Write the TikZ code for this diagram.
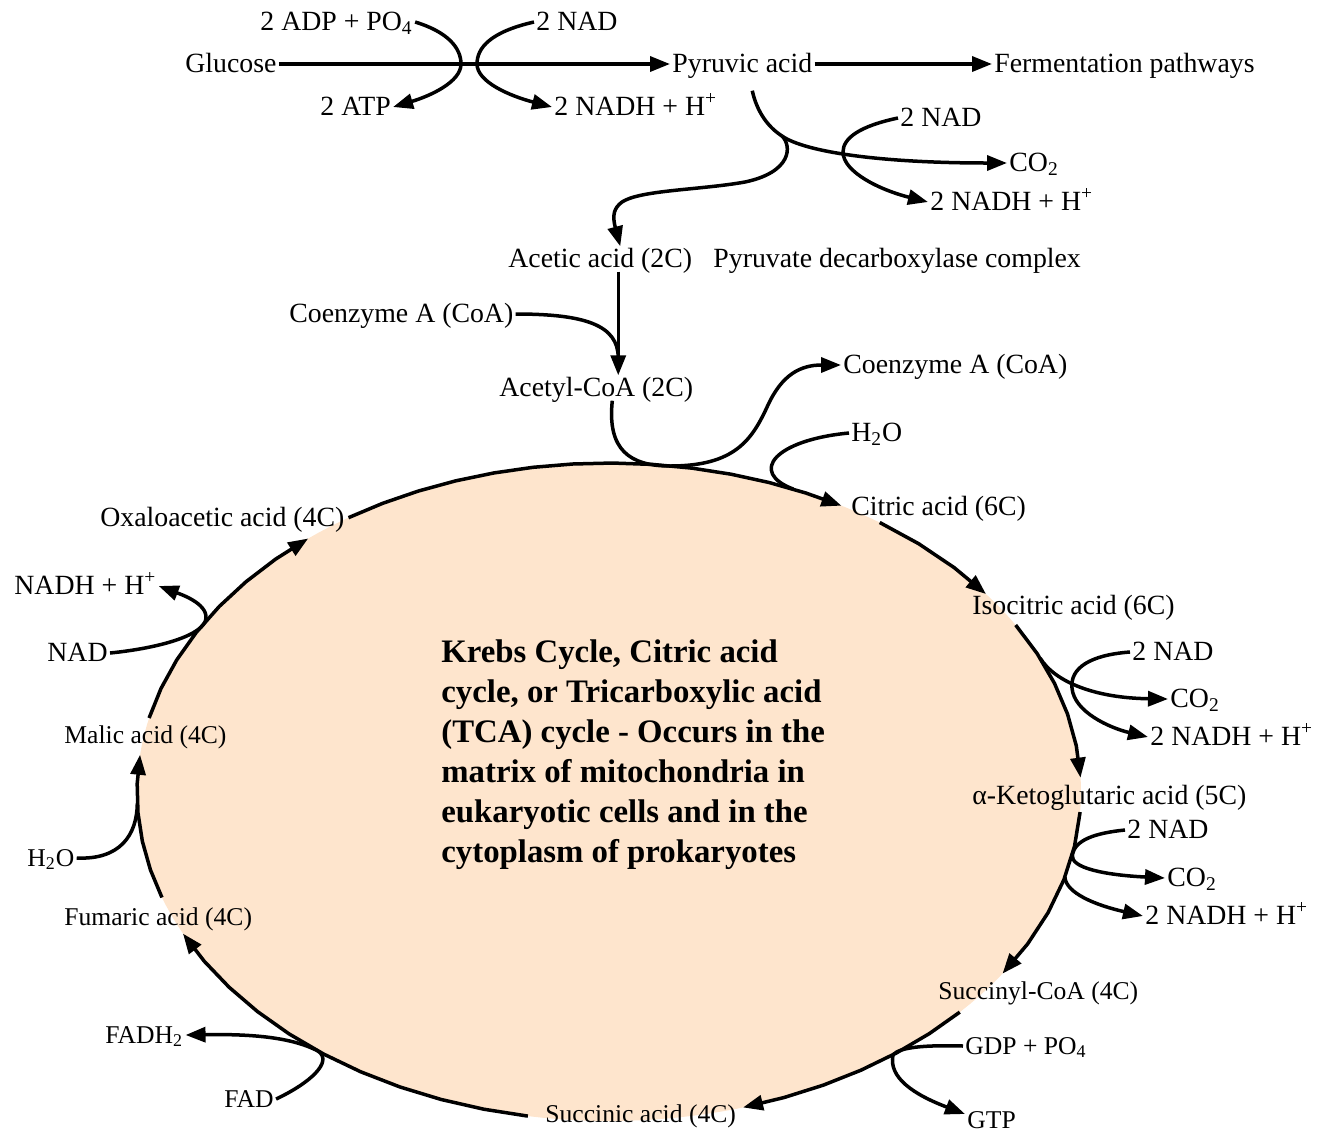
\documentclass[tikz,border=0pt]{standalone}
\usepackage{fontspec}
\setmainfont{Liberation Serif}
\usetikzlibrary{arrows.meta}
\definecolor{peach}{RGB}{254,229,205}
\begin{document}
\begin{tikzpicture}[x=0.5pt,y=-0.5pt,
  lab/.style={anchor=west,inner sep=1pt,font=\fontsize{13.9pt}{16pt}\selectfont,text height=0.93em,text depth=0.1em},
  labs/.style={lab,font=\fontsize{12.8pt}{15pt}\selectfont},
  conn/.style={line width=1.75pt},
  arr/.style={conn,-{Triangle[length=10pt,width=7.5pt]}}]
\useasboundingbox (0,0) rectangle (1324,1131);
% cycle body
\fill[peach] plot[domain=0:360,samples=181] ({609+472*cos(\x)},{792-329*sin(\x)}) -- cycle;
\foreach \a in {67,24,-11,-15,-53,-128,182}
  \coordinate (e\a) at ({609+472*cos(\a)},{792-329*sin(\a)});
% labels - top
\node[lab] (glucose) at (183,64) {Glucose};
\node[lab] (pyr) at (670,64) {Pyruvic acid};
\node[lab] (ferm) at (992,64) {Fermentation pathways};
\node[lab] (adp) at (258,22) {2 ADP + PO\textsubscript{4}};
\node[lab] (atp) at (318,107) {2 ATP};
\node[lab] (nadA) at (534,22) {2 NAD};
\node[lab] (nadhA) at (552,107) {2 NADH + H\textsuperscript{+}};
\node[lab] (nadB) at (898,118) {2 NAD};
\node[lab] (co2A) at (1007,163) {CO\textsubscript{2}};
\node[lab] (nadhB) at (928,202) {2 NADH + H\textsuperscript{+}};
\node[lab] (acetic) at (506,259) {Acetic acid (2C)};
\node[lab] (pdc) at (711,259) {Pyruvate decarboxylase complex};
\node[lab] (coaL) at (287,314) {Coenzyme A (CoA)};
\node[lab] (acetyl) at (497,388) {Acetyl-CoA (2C)};
\node[lab] (coaR) at (841,365) {Coenzyme A (CoA)};
\node[lab] (h2oA) at (849,433) {H\textsubscript{2}O};
% labels - cycle
\node[lab] (citric) at (849,507) {Citric acid (6C)};
\node[lab] (iso) at (970,606) {Isocitric acid (6C)};
\node[lab] (nadC) at (1130,652) {2 NAD};
\node[lab] (co2B) at (1168,699) {CO\textsubscript{2}};
\node[lab] (nadhC) at (1148,737) {2 NADH + H\textsuperscript{+}};
\node[lab] (akg) at (970,796) {α-Ketoglutaric acid (5C)};
\node[lab] (nadD) at (1125,830) {2 NAD};
\node[lab] (co2C) at (1165,878) {CO\textsubscript{2}};
\node[lab] (nadhD) at (1143,916) {2 NADH + H\textsuperscript{+}};
\node[labs] (succoa) at (936,991) {Succinyl-CoA (4C)};
\node[labs] (gdp) at (963,1046) {GDP + PO\textsubscript{4}};
\node[labs] (gtp) at (965,1120) {GTP};
\node[labs] (succ) at (543,1114) {Succinic acid (4C)};
\node[labs] (fad) at (222,1099) {FAD};
\node[labs] (fadh) at (103,1035) {FADH\textsubscript{2}};
\node[labs] (fum) at (62,917) {Fumaric acid (4C)};
\node[labs] (h2oB) at (25,858) {H\textsubscript{2}O};
\node[labs] (malic) at (62,735) {Malic acid (4C)};
\node[lab] (oxalo) at (98,518) {Oxaloacetic acid (4C)};
\node[lab] (nadhE) at (12,586) {NADH + H\textsuperscript{+}};
\node[lab] (nadE) at (45,653) {NAD};
\node[anchor=north west,inner sep=0pt,align=left,
      font=\fontsize{16.4pt}{20pt}\bfseries\selectfont] (krebs) at (441,639)
  {Krebs Cycle, Citric acid\\cycle, or Tricarboxylic acid\\(TCA) cycle - Occurs in the\\matrix of mitochondria in\\eukaryotic cells and in the\\cytoplasm of prokaryotes};
% glycolysis
\draw[arr] (glucose.east) -- (pyr.west);
\draw[arr] (pyr.east) -- (ferm.west);
\coordinate (gx1) at (461,64);
\coordinate (gx2) at (477,64);
\draw[arr] (adp.east) .. controls (448,32) and (461,48) .. (gx1) .. controls (461,82) and (430,96) .. (atp.east);
\draw[arr] (nadA.west) .. controls (490,32) and (477,48) .. (gx2) .. controls (477,82) and (510,96) .. (nadhA.west);
% pyruvate decarboxylation
\coordinate (pyS) at ([xshift=5pt,yshift=-7pt]pyr.south);
\coordinate (pyB) at (782,136);
\draw[conn] (pyS) .. controls (757,112) and (768,127) .. (pyB);
\draw[arr] (pyB) .. controls (805,152) and (880,163) .. (co2A.west);
\draw[arr] (pyB) .. controls (792,146) and (792,172) .. (745,182) .. controls (700,190) and (640,190) .. (622,202) .. controls (614,208) and (612,215) .. ([xshift=10pt]acetic.north);
\draw[arr] (nadB.west) .. controls (860,126) and (843,138) .. (843,152) .. controls (843,172) and (880,190) .. (nadhB.west);
% acetyl-CoA formation
\coordinate (vtop) at ([xshift=9pt]acetic.south);
\coordinate (vmerge) at (vtop |- 0,358);
\draw[arr] (vtop) -- (vtop |- acetyl.north);
\draw[conn] (coaL.east) .. controls (585,314) and (vtop |- 0,325) .. (vmerge);
\draw[arr] ([xshift=8pt]acetyl.south) .. controls (607,450) and (630,466) .. (670,466) .. controls (735,466) and (752,440) .. (768,405) .. controls (782,375) and (800,365) .. (coaR.west);
\draw[conn] (h2oA.west) .. controls (775,440) and (748,472) .. (e67);
% cycle arcs
\draw[arr] plot[domain=123.5:60.5,samples=14] ({609+472*cos(\x)},{792-329*sin(\x)});
\draw[arr] plot[domain=55:37,samples=4] ({609+472*cos(\x)},{792-329*sin(\x)});
\draw[arr] plot[domain=30.5:2.5,samples=6] ({609+472*cos(\x)},{792-329*sin(\x)});
\draw[arr] plot[domain=-3.5:-33.5,samples=6] ({609+472*cos(\x)},{792-329*sin(\x)});
\draw[arr] plot[domain=-42:-73.5,samples=7] ({609+472*cos(\x)},{792-329*sin(\x)});
\draw[arr] plot[domain=-99.9:-154.5,samples=11] ({609+472*cos(\x)},{792-329*sin(\x)});
\draw[arr] plot[domain=-161.3:-186.5,samples=6] ({609+472*cos(\x)},{792-329*sin(\x)});
\draw[arr] plot[domain=167:129.6,samples=8] ({609+472*cos(\x)},{792-329*sin(\x)});
% side reactions
\draw[arr] (e24) .. controls (1055,682) and (1095,698) .. (co2B.west);
\draw[arr] (nadC.west) .. controls (1090,655) and (1070,668) .. (1072,688) .. controls (1074,712) and (1110,728) .. (nadhC.west);
\draw[conn] (nadD.west) .. controls (1095,833) and (1075,840) .. (e-11);
\draw[arr] (e-11) .. controls (1070,868) and (1105,875) .. (co2C.west);
\draw[arr] (e-15) .. controls (1066,893) and (1095,905) .. (nadhD.west);
\draw[conn] (gdp.west) .. controls (925,1045) and (900,1047) .. (e-53);
\draw[arr] (e-53) .. controls (888,1078) and (915,1095) .. ([yshift=3pt]gtp.west);
\draw[conn] (fad.east) .. controls (310,1083) and (333,1062) .. (e-128);
\draw[arr] (e-128) .. controls (290,1036) and (245,1034) .. (fadh.east);
\draw[conn] (h2oB.east) .. controls (120,860) and (137,835) .. (e182);
\draw[arr] (nadE.east) .. controls (160,648) and (205,635) .. (206,618) .. controls (207,603) and (180,594) .. (nadhE.east);
\end{tikzpicture}
\end{document}
